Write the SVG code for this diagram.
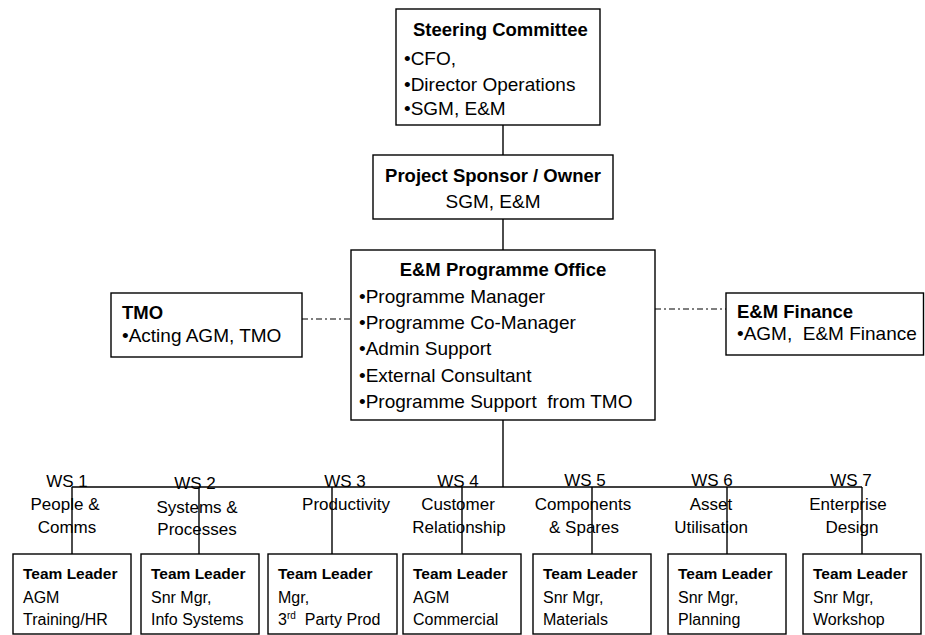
<svg xmlns="http://www.w3.org/2000/svg" width="925" height="635" viewBox="0 0 925 635">
<style>
text { font-family: "Liberation Sans", Arial, sans-serif; fill: #000; white-space: pre; }
.box { fill: #fff; stroke: #000; stroke-width: 1.4; }
.t { font-size: 18.5px; font-weight: bold; }
.r { font-size: 19px; }
.tb { font-size: 15.5px; font-weight: bold; }
.rb { font-size: 16px; }
.ws { font-size: 17px; text-anchor: middle; }
.c { text-anchor: middle; }
.ln { stroke: #000; stroke-width: 1.4; fill: none; }
.dd { stroke: #000; stroke-width: 1.2; stroke-dasharray: 6 3 2 3; fill: none; }
</style>
<rect width="925" height="635" fill="#fff"/>
<g id="connectors">
<line class="ln" x1="503" y1="125" x2="503" y2="155"/>
<line class="ln" x1="503" y1="219" x2="503" y2="250"/>
<line class="ln" x1="503" y1="420" x2="503" y2="487" stroke-width="2"/>
<line class="ln" x1="72" y1="487" x2="862" y2="487" stroke-width="1.6"/>
<line class="ln" x1="72" y1="487" x2="72" y2="554"/>
<line class="ln" x1="199" y1="487" x2="199" y2="554"/>
<line class="ln" x1="332" y1="487" x2="332" y2="554"/>
<line class="ln" x1="462" y1="487" x2="462" y2="554"/>
<line class="ln" x1="592" y1="487" x2="592" y2="554"/>
<line class="ln" x1="727" y1="487" x2="727" y2="554"/>
<line class="ln" x1="862" y1="487" x2="862" y2="554"/>
<line class="dd" x1="302" y1="319" x2="351" y2="319"/>
<line class="dd" x1="655" y1="309" x2="726" y2="309"/>
</g>
<g id="ws-labels">
<text class="ws" x="67" y="487">WS 1</text>
<text class="ws" x="65" y="510">People &amp;</text>
<text class="ws" x="67" y="533">Comms</text>
<text class="ws" x="195" y="489">WS 2</text>
<text class="ws" x="197" y="513">Systems &amp;</text>
<text class="ws" x="197" y="535">Processes</text>
<text class="ws" x="345" y="487">WS 3</text>
<text class="ws" x="346" y="510">Productivity</text>
<text class="ws" x="458" y="487">WS 4</text>
<text class="ws" x="458" y="510">Customer</text>
<text class="ws" x="459" y="533">Relationship</text>
<text class="ws" x="585" y="486">WS 5</text>
<text class="ws" x="583" y="510">Components</text>
<text class="ws" x="584" y="533">&amp; Spares</text>
<text class="ws" x="712" y="486">WS 6</text>
<text class="ws" x="711" y="510">Asset</text>
<text class="ws" x="711" y="533">Utilisation</text>
<text class="ws" x="851" y="486">WS 7</text>
<text class="ws" x="848" y="510">Enterprise</text>
<text class="ws" x="852" y="533">Design</text>
</g>
<g id="steering">
<rect class="box" x="396" y="9" width="204" height="116"/>
<text class="t" x="413" y="36">Steering Committee</text>
<text class="r" x="404" y="65">•CFO,</text>
<text class="r" x="404" y="91">•Director Operations</text>
<text class="r" x="404" y="115">•SGM, E&amp;M</text>
</g>
<g id="sponsor">
<rect class="box" x="373" y="155" width="240" height="64"/>
<text class="t c" x="493" y="182">Project Sponsor / Owner</text>
<text class="r c" x="493" y="208">SGM, E&amp;M</text>
</g>
<g id="office">
<rect class="box" x="351" y="250" width="304" height="170"/>
<text class="t c" x="503" y="276">E&amp;M Programme Office</text>
<text class="r" x="359" y="303">•Programme Manager</text>
<text class="r" x="359" y="329">•Programme Co-Manager</text>
<text class="r" x="359" y="355">•Admin Support</text>
<text class="r" x="359" y="382">•External Consultant</text>
<text class="r" x="359" y="408">•Programme Support  from TMO</text>
</g>
<g id="tmo">
<rect class="box" x="111" y="293" width="191" height="64"/>
<text class="t" x="122" y="319">TMO</text>
<text class="r" x="122" y="342">•Acting AGM, TMO</text>
</g>
<g id="finance">
<rect class="box" x="726" y="293" width="197.5" height="62"/>
<text class="t" x="737" y="318">E&amp;M Finance</text>
<text class="r" x="737" y="340">•AGM,  E&amp;M Finance</text>
</g>
<g id="tl1">
<rect class="box" x="13" y="554" width="118" height="80"/>
<text class="tb" x="23" y="579">Team Leader</text>
<text class="rb" x="23" y="603">AGM</text>
<text class="rb" x="23" y="625">Training/HR</text>
</g>
<g id="tl2">
<rect class="box" x="141" y="554" width="118" height="80"/>
<text class="tb" x="151" y="579">Team Leader</text>
<text class="rb" x="151" y="603">Snr Mgr,</text>
<text class="rb" x="151" y="625">Info Systems</text>
</g>
<g id="tl3">
<rect class="box" x="268" y="554" width="129" height="80"/>
<text class="tb" x="278" y="579">Team Leader</text>
<text class="rb" x="278" y="603">Mgr,</text>
<text class="rb" x="278" y="625">3<tspan font-size="10px" dy="-6">rd</tspan><tspan dy="6">  Party Prod</tspan></text>
</g>
<g id="tl4">
<rect class="box" x="403" y="554" width="118" height="80"/>
<text class="tb" x="413" y="579">Team Leader</text>
<text class="rb" x="413" y="603">AGM</text>
<text class="rb" x="413" y="625">Commercial</text>
</g>
<g id="tl5">
<rect class="box" x="533" y="554" width="118" height="80"/>
<text class="tb" x="543" y="579">Team Leader</text>
<text class="rb" x="543" y="603">Snr Mgr,</text>
<text class="rb" x="543" y="625">Materials</text>
</g>
<g id="tl6">
<rect class="box" x="668" y="554" width="118" height="80"/>
<text class="tb" x="678" y="579">Team Leader</text>
<text class="rb" x="678" y="603">Snr Mgr,</text>
<text class="rb" x="678" y="625">Planning</text>
</g>
<g id="tl7">
<rect class="box" x="803" y="554" width="118" height="80"/>
<text class="tb" x="813" y="579">Team Leader</text>
<text class="rb" x="813" y="603">Snr Mgr,</text>
<text class="rb" x="813" y="625">Workshop</text>
</g>
</svg>
